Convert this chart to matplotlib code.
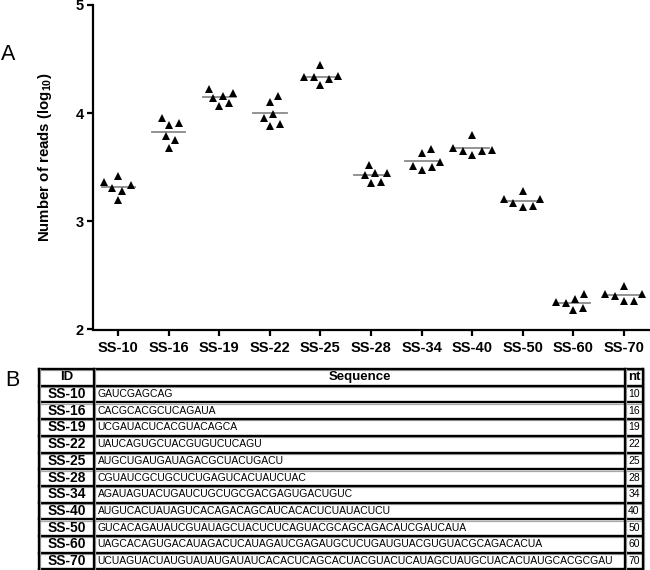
import numpy as np
import matplotlib
matplotlib.use("Agg")
import matplotlib.pyplot as plt

plt.rcParams['font.family'] = ['Liberation Sans', 'DejaVu Sans']
plt.rcParams['mathtext.fontset'] = 'custom'
plt.rcParams['mathtext.rm'] = 'Liberation Sans'
plt.rcParams['mathtext.bf'] = 'Liberation Sans:bold'

# ---- data (log10 read counts, 6 replicates each) ----
ids = ['SS-10', 'SS-16', 'SS-19', 'SS-22', 'SS-25', 'SS-28',
       'SS-34', 'SS-40', 'SS-50', 'SS-60', 'SS-70']
ss10 = [3.363, 3.421, 3.307, 3.285, 3.338, 3.199]
ss16 = [3.959, 3.886, 3.908, 3.793, 3.753, 3.682]
ss19 = [4.190, 4.139, 4.163, 4.227, 4.067, 4.092]
ss22 = [4.102, 4.160, 3.957, 3.994, 3.883, 3.901]
ss25 = [4.338, 4.443, 4.344, 4.314, 4.261, 4.332]
ss28 = [3.446, 3.430, 3.446, 3.525, 3.359, 3.368]
ss34 = [3.673, 3.631, 3.516, 3.553, 3.474, 3.498]
ss40 = [3.797, 3.682, 3.649, 3.612, 3.652, 3.655]
ss50 = [3.280, 3.206, 3.169, 3.132, 3.144, 3.206]
ss60 = [2.329, 2.246, 2.283, 2.255, 2.181, 2.196]
ss70 = [2.331, 2.313, 2.399, 2.325, 2.264, 2.267]
reads = [ss10, ss16, ss19, ss22, ss25, ss28, ss34, ss40, ss50, ss60, ss70]

sequences = [
    'GAUCGAGCAG',
    'CACGCACGCUCAGAUA',
    'UCGAUACUCACGUACAGCA',
    'UAUCAGUGCUACGUGUCUCAGU',
    'AUGCUGAUGAUAGACGCUACUGACU',
    'CGUAUCGCUGCUCUGAGUCACUAUCUAC',
    'AGAUAGUACUGAUCUGCUGCGACGAGUGACUGUC',
    'AUGUCACUAUAGUCACAGACAGCAUCACACUCUAUACUCU',
    'GUCACAGAUAUCGUAUAGCUACUCUCAGUACGCAGCAGACAUCGAUCAUA',
    'UAGCACAGUGACAUAGACUCAUAGAUCGAGAUGCUCUGAUGUACGUGUACGCAGACACUA',
    'UCUAGUACUAUGUAUAUGAUAUCACACUCAGCACUACGUACUCAUAGCUAUGCUACACUAUGCACGCGAU',
]
lengths = [10, 16, 19, 22, 25, 28, 34, 40, 50, 60, 70]

W, H = 650, 570
fig = plt.figure(figsize=(6.5, 5.7), dpi=100)

# ---- panel A: scatter dot plot ----
ax = fig.add_axes([93 / W, 1 - 329.5 / H, (649 - 93) / W, (329.5 - 5) / H])
ax.set_xlim(-0.5, len(ids) - 0.5)
ax.set_ylim(2, 5)


def swarm(x0, vals, d=10.0):
    # simple beeswarm in pixel space, returns x positions in data units
    pts = ax.transData.transform(np.column_stack([np.full(len(vals), x0), vals]))
    order = np.argsort(pts[:, 1])
    steps = [0.0] + [s * k * 0.5 for k in range(1, 80) for s in (1, -1)]
    placed = []
    out = np.zeros(len(vals))
    for i in order:
        yi = pts[i, 1]
        for c in steps:
            if all((c - px) ** 2 + (yi - py) ** 2 >= d * d for px, py in placed):
                break
        placed.append((c, yi))
        out[i] = c
    px_per_unit = ax.transData.transform((1, 0))[0] - ax.transData.transform((0, 0))[0]
    return x0 + out / px_per_unit


for i, vals in enumerate(reads):
    xs = swarm(i, vals)
    ax.plot(xs, vals, linestyle='none', marker='^', ms=6.2, color='black',
            markeredgewidth=0)
    m = np.mean(vals)
    ax.plot([i - 0.33, i + 0.33], [m, m], color='#8a8a8a', lw=1.3, zorder=1)

for s in ['top', 'right']:
    ax.spines[s].set_visible(False)
for s in ['left', 'bottom']:
    ax.spines[s].set_linewidth(1.6)
ax.set_yticks([2, 3, 4, 5])
ax.set_xticks(range(len(ids)))
ax.set_xticklabels(ids)
ax.tick_params(direction='out', length=4, width=1.6, pad=2.5, labelsize=10.5)
for lab in ax.get_xticklabels() + ax.get_yticklabels():
    lab.set_fontweight('bold')
ax.tick_params(axis='x', pad=4)

fig.text(45 / W, 1 - 157 / H, r'Number of reads (log$_\mathbf{10}$)',
         rotation=90, ha='center', va='center', fontsize=10.8, fontweight='bold')
fig.text(1 / W, 1 - 60 / H, 'A', fontsize=15.5, va='baseline')
fig.text(5 / W, 1 - 386 / H, 'B', fontsize=15.5, va='baseline')

# ---- panel B: sequence table ----
tab = fig.add_axes([0, 0, 1, 1])
tab.set_xlim(0, W)
tab.set_ylim(H, 0)
tab.axis('off')

cols = [39, 94, 625, 643]
top, rh = 369.0, 16.7
nrows = len(ids) + 1
bottom = top + rh * nrows
for k in range(nrows + 1):
    y = top + rh * k
    tab.plot([cols[0], cols[-1]], [y + 1.3, y + 1.3], color='#a8a8a8', lw=0.9)
    tab.plot([cols[0], cols[-1]], [y, y], color='black', lw=1.7, solid_capstyle='projecting')
for x in cols:
    tab.plot([x + 1.3, x + 1.3], [top, bottom], color='#a8a8a8', lw=0.9)
    tab.plot([x, x], [top, bottom], color='black', lw=1.7, solid_capstyle='projecting')

yc = top + rh / 2
tab.text((cols[0] + cols[1]) / 2, yc, 'ID', ha='center', va='center',
         fontsize=9.5, fontweight='bold')
tab.text((cols[1] + cols[2]) / 2, yc, 'Sequence', ha='center', va='center',
         fontsize=9.5, fontweight='bold')
tab.text((cols[2] + cols[3]) / 2, yc, 'nt', ha='center', va='center',
         fontsize=9.5, fontweight='bold')
for k, (sid, seq, n) in enumerate(zip(ids, sequences, lengths)):
    yc = top + rh * (k + 1.5)
    tab.text((cols[0] + cols[1]) / 2, yc, sid, ha='center', va='center',
             fontsize=10, fontweight='bold')
    tab.text(cols[1] + 3.5, yc, seq, ha='left', va='center', fontsize=7.5)
    tab.text((cols[2] + cols[3]) / 2, yc, str(n), ha='center', va='center',
             fontsize=7.5)

fig.savefig('out.png', dpi=100)
